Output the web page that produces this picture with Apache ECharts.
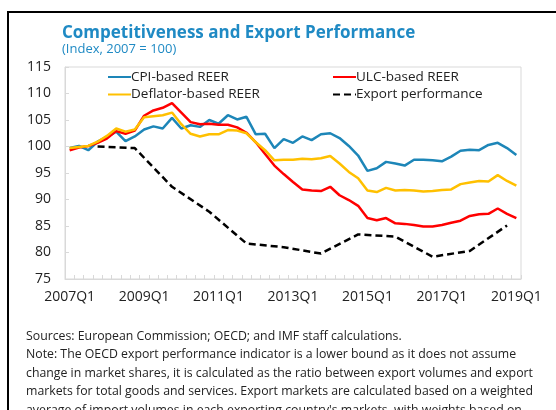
<!DOCTYPE html>
<html>
<head>
<meta charset="utf-8">
<script src="https://cdn.jsdelivr.net/npm/echarts@6/dist/echarts.min.js"></script>
<style>
html,body{margin:0;padding:0;background:#fff;}
#chart{width:556px;height:410px;}
</style>
</head>
<body>
<div id="chart"></div>
<script>
const categories = [
  '2007Q1','2007Q2','2007Q3','2007Q4','2008Q1','2008Q2','2008Q3','2008Q4',
  '2009Q1','2009Q2','2009Q3','2009Q4','2010Q1','2010Q2','2010Q3','2010Q4',
  '2011Q1','2011Q2','2011Q3','2011Q4','2012Q1','2012Q2','2012Q3','2012Q4',
  '2013Q1','2013Q2','2013Q3','2013Q4','2014Q1','2014Q2','2014Q3','2014Q4',
  '2015Q1','2015Q2','2015Q3','2015Q4','2016Q1','2016Q2','2016Q3','2016Q4',
  '2017Q1','2017Q2','2017Q3','2017Q4','2018Q1','2018Q2','2018Q3','2018Q4',
  '2019Q1'
];
const cpiREER = [
  99.7,100.1,99.3,100.9,101.8,102.8,101.0,101.9,
  103.2,103.8,103.4,105.4,103.4,104.0,103.7,105.0,
  104.3,105.9,105.1,105.6,102.3,102.4,99.7,101.4,
  100.7,101.9,101.2,102.3,102.5,101.6,100.1,98.3,
  95.4,95.9,97.1,96.8,96.4,97.5,97.5,97.4,
  97.2,98.1,99.2,99.4,99.3,100.3,100.7,99.7,
  98.4
];
const ulcREER = [
  99.3,99.8,100.1,100.7,101.5,102.9,102.4,103.0,
  105.8,106.8,107.3,108.2,106.4,104.6,104.2,104.3,
  104.1,104.1,103.6,102.6,100.8,98.6,96.4,94.8,
  93.3,91.9,91.7,91.6,92.4,90.8,89.9,88.8,
  86.5,86.1,86.5,85.5,85.4,85.2,84.9,84.9,
  85.2,85.6,86.0,86.9,87.2,87.3,88.3,87.3,
  86.5
];
const deflatorREER = [
  99.7,99.9,100.1,100.9,102.0,103.4,102.8,103.2,
  105.5,105.7,105.9,106.4,104.2,102.4,101.9,102.3,
  102.3,103.1,103.0,102.5,100.8,99.3,97.4,97.5,
  97.5,97.7,97.6,97.8,98.2,96.8,95.2,94.0,
  91.7,91.4,92.2,91.7,91.8,91.7,91.5,91.6,
  91.8,91.9,92.9,93.2,93.5,93.4,94.6,93.5,
  92.6
];
const exportQuarters = ['2007Q4','2008Q4','2009Q4','2010Q4','2011Q4','2012Q4','2013Q4','2014Q4','2015Q4','2016Q4','2017Q4','2018Q4'];
const exportPerf = [100.0,99.7,92.4,87.7,81.7,81.0,79.8,83.4,83.0,79.2,80.3,85.1];
const yTicks = { min: 75, max: 115, interval: 5 };

const titleText = 'Competitiveness and Export Performance';
const subtitleText = '(Index, 2007 = 100)';
const noteLines = [
  'Sources: European Commission; OECD; and IMF staff calculations.',
  'Note: The OECD export performance indicator is a lower bound as it does not assume',
  'change in market shares, it is calculated as the ratio between export volumes and export',
  'markets for total goods and services. Export markets are calculated based on a weighted',
  "average of import volumes in each exporting country's markets, with weights based on"
];

const FONT = '"Open Sans", "Noto Sans", sans-serif';
const chart = echarts.init(document.getElementById('chart'), null, {renderer: 'canvas'});

const graphics = [
  {type: 'line', shape: {x1: 8, y1: 12, x2: 556, y2: 12}, style: {stroke: '#000', lineWidth: 2}},
  {type: 'line', shape: {x1: 8, y1: 11, x2: 8, y2: 410}, style: {stroke: '#000', lineWidth: 2}},
  {type: 'text', left: 62, top: 25, style: {text: titleText, fill: '#1f8ac4', font: 'bold 17px ' + FONT}},
  {type: 'text', left: 62, top: 43, style: {text: subtitleText, fill: '#1f8ac4', font: '13px ' + FONT}}
];
noteLines.forEach((t, i) => {
  graphics.push({type: 'text', left: 26, top: 330 + i * 18.5, style: {text: t, fill: '#222', font: '12.3px ' + FONT}});
});

const lineSeries = (name, data, color, extra) => Object.assign({
  name: name, type: 'line', data: data, symbol: 'none', smooth: false,
  lineStyle: {color: color, width: 2.5}, itemStyle: {color: color}, z: 3
}, extra || {});

const legendBase = {
  orient: 'vertical', top: 65, itemWidth: 23, itemHeight: 14, itemGap: 3.5,
  itemStyle: {opacity: 0},
  textStyle: {fontSize: 13.5, color: '#222', fontFamily: FONT, padding: [0, 0, 0, -5]}
};

chart.setOption({
  animation: false,
  backgroundColor: '#fff',
  textStyle: {fontFamily: FONT},
  grid: {left: 65, right: 35, top: 67, bottom: 131, show: true, borderColor: '#d9d9d9', borderWidth: 1},
  legend: [
    Object.assign({}, legendBase, {data: ['CPI-based REER', 'Deflator-based REER'], left: 102}),
    Object.assign({}, legendBase, {data: ['ULC-based REER', 'Export performance'], left: 327})
  ],
  xAxis: {
    type: 'category', data: categories, boundaryGap: true,
    axisLine: {show: true, lineStyle: {color: '#d9d9d9', width: 1}},
    axisTick: {show: true, inside: true, length: 4, interval: 0, lineStyle: {color: '#d9d9d9'}},
    axisLabel: {interval: 7, fontSize: 14, color: '#222', margin: 11, fontFamily: FONT},
    splitLine: {show: false}
  },
  yAxis: {
    type: 'value', min: yTicks.min, max: yTicks.max, interval: yTicks.interval,
    axisLine: {show: true, lineStyle: {color: '#d9d9d9', width: 1}},
    axisTick: {show: true, inside: true, length: 4, lineStyle: {color: '#d9d9d9'}},
    axisLabel: {fontSize: 14, color: '#222', margin: 14, fontFamily: FONT},
    splitLine: {show: false}
  },
  series: [
    lineSeries('CPI-based REER', cpiREER, '#1d86b8'),
    lineSeries('ULC-based REER', ulcREER, '#ff0000'),
    lineSeries('Deflator-based REER', deflatorREER, '#ffc000'),
    lineSeries('Export performance', exportQuarters.map((q, i) => [q, exportPerf[i]]), '#000',
      {lineStyle: {color: '#000', width: 2.5, type: [7, 4]}, connectNulls: true, z: 2})
  ],
  graphic: graphics
});
</script>
</body>
</html>
